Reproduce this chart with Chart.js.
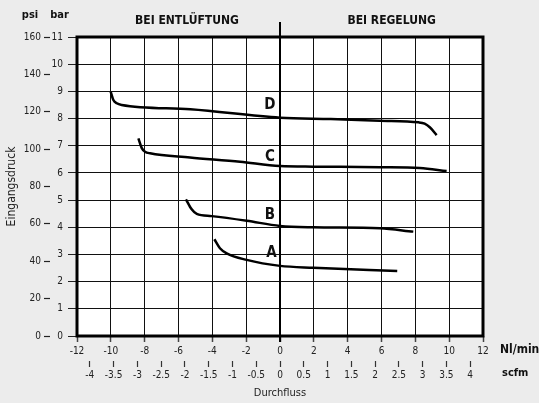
<!DOCTYPE html>
<html><head><meta charset="utf-8">
<script src="https://cdn.jsdelivr.net/npm/chart.js@4/dist/chart.umd.min.js"></script>
<style>html,body{margin:0;padding:0;background:#ececec;overflow:hidden}</style>
</head><body>
<canvas id="c" width="539" height="403"></canvas>
<script>
// ---- tick labels ----
const flowTicks = [-12,-10,-8,-6,-4,-2,0,2,4,6,8,10,12];          // Nl/min
const scfmTicks = [-4,-3.5,-3,-2.5,-2,-1.5,-1,-0.5,0,0.5,1,1.5,2,2.5,3,3.5,4];
const barTicks  = [0,1,2,3,4,5,6,7,8,9,10,11];
const psiTicks  = [0,20,40,60,80,100,120,140,160];
const nlPerScfm = 2.81;   // spacing ratio of the scfm scale as drawn

// ---- curves (x: Nl/min, y: bar) ----
const curveA_x = [-3.88,-3.55,-3.15,-1.97,0,1.97,6.93];
const curveA_y = [3.56,3.23,3.04,2.80,2.58,2.51,2.39];
const curveB_x = [-5.56,-5.22,-4.92,-4.04,-1.97,0,1.97,5.91,7.88];
const curveB_y = [5.03,4.66,4.49,4.41,4.24,4.05,4.00,3.96,3.84];
const curveC_x = [-8.37,-8.17,-7.98,-7.68,-5.32,-2.36,0,1.97,5.91,8.27,9.85];
const curveC_y = [7.27,6.91,6.78,6.72,6.57,6.41,6.25,6.23,6.21,6.18,6.07];
const curveD_x = [-10.01,-9.85,-9.65,-9.36,-5.3,0,3.0,5.9,8.2,8.55,8.87,9.26];
const curveD_y = [8.99,8.68,8.56,8.50,8.34,8.03,7.98,7.92,7.86,7.81,7.67,7.39];

const curveNames = ['A','B','C','D'];
const curveLabelX = [-0.5,-0.6,-0.6,-0.6];
const curveLabelY = [3.06,4.45,6.59,8.5];
const headers = ['BEI ENTLÜFTUNG','BEI REGELUNG'];
const headerX = [-5.5,6.6];

const NARROW = "'DejaVu Sans Condensed',sans-serif";
const tickFont = {family: NARROW, size: 10};

function pts(xs, ys){ return xs.map((x,i)=>({x:x, y:ys[i]})); }
function ds(label, xs, ys){
  return {label, data: pts(xs,ys), borderColor:'#000', borderWidth:2.5,
          pointRadius:0, fill:false, cubicInterpolationMode:'monotone',
          xAxisID:'x', yAxisID:'y'};
}
function setTicks(arr){ return s => { s.ticks = arr.map(v=>({value:v})); }; }

const decor = {
  id:'decor',
  beforeDraw(chart){
    const {ctx, chartArea:a} = chart;
    ctx.save();
    ctx.fillStyle = '#ececec';
    ctx.fillRect(0,0,chart.width,chart.height);
    ctx.fillStyle = '#fff';
    ctx.fillRect(a.left,a.top,a.right-a.left,a.bottom-a.top);
    ctx.restore();
  },
  beforeDatasetsDraw(chart){
    const {ctx, chartArea:a, scales} = chart;
    ctx.save();
    ctx.strokeStyle = '#000';
    ctx.lineWidth = 3;
    ctx.strokeRect(a.left, a.top, a.right-a.left, a.bottom-a.top);
    const x0 = Math.round(scales.x.getPixelForValue(0));
    ctx.lineWidth = 2;
    ctx.beginPath(); ctx.moveTo(x0, 22); ctx.lineTo(x0, a.bottom+6); ctx.stroke();
    ctx.restore();
  },
  afterDraw(chart){
    const {ctx, scales} = chart;
    ctx.save();
    ctx.fillStyle = '#111';
    ctx.textAlign = 'center'; ctx.textBaseline = 'middle';
    ctx.font = "bold 12px " + NARROW;
    headers.forEach((h,i)=> ctx.fillText(h, scales.x.getPixelForValue(headerX[i]), 21));
    ctx.font = "bold 11px " + NARROW;
    ctx.fillText('psi', 30, 15);
    ctx.fillText('bar', 59.5, 15);
    ctx.textAlign = 'left';
    ctx.font = "bold 12px " + NARROW;
    ctx.fillText('Nl/min', 500, 350);
    ctx.font = "bold 11px " + NARROW;
    ctx.fillText('scfm', 502, 373);
    ctx.textAlign = 'center';
    ctx.font = "bold 15px " + NARROW;
    curveNames.forEach((n,i)=> ctx.fillText(n, scales.x.getPixelForValue(curveLabelX[i]), scales.y.getPixelForValue(curveLabelY[i])));
    ctx.restore();
  }
};

new Chart(document.getElementById('c'), {
  type:'line',
  data:{ datasets:[ ds('A',curveA_x,curveA_y), ds('B',curveB_x,curveB_y), ds('C',curveC_x,curveC_y), ds('D',curveD_x,curveD_y) ] },
  options:{
    responsive:false, devicePixelRatio:1, animation:false,
    layout:{ padding:{left:0, top:37, right:56, bottom:0} },
    plugins:{ legend:{display:false}, tooltip:{enabled:false} },
    scales:{
      x:{ type:'linear', position:'bottom', min:-12, max:12,
          afterBuildTicks:setTicks(flowTicks),
          afterFit:s=>{ s.height = 25; },
          ticks:{ font:tickFont, color:'#222', padding:3, maxRotation:0, autoSkip:false, callback:v=>String(v) },
          grid:{ color:'#111', lineWidth:1, tickLength:6, tickColor:'#444', tickWidth:1.5 },
          border:{ display:false } },
      x2:{ type:'linear', position:'bottom', min:-12/nlPerScfm, max:12/nlPerScfm,
          afterBuildTicks:setTicks(scfmTicks),
          afterFit:s=>{ s.height = 42; },
          ticks:{ font:tickFont, color:'#222', padding:2, maxRotation:0, autoSkip:false, callback:v=>String(v) },
          grid:{ drawOnChartArea:false, tickLength:6, tickColor:'#333', tickWidth:1.2 },
          border:{ display:false },
          title:{ display:true, text:'Durchfluss', color:'#222', font:{family:NARROW, size:11}, padding:{top:0,bottom:3} } },
      y:{ type:'linear', position:'left', min:0, max:11,
          afterBuildTicks:setTicks(barTicks),
          afterFit:s=>{ s.width = 27; },
          ticks:{ font:tickFont, color:'#222', padding:5, callback:v=>String(v) },
          grid:{ color:'#111', lineWidth:1, tickLength:9, tickColor:'#222' },
          border:{ display:false } },
      y2:{ type:'linear', position:'left', min:0, max:160,
          afterBuildTicks:setTicks(psiTicks),
          afterFit:s=>{ s.width = 50; },
          ticks:{ font:tickFont, color:'#222', padding:3, callback:v=>String(v) },
          grid:{ drawOnChartArea:false, tickLength:6, tickColor:'#222', tickWidth:1.2 },
          border:{ display:false },
          title:{ display:true, text:'Eingangsdruck', color:'#222', font:{family:NARROW, size:12}, padding:{top:5,bottom:0} } }
    }
  },
  plugins:[decor]
});
</script>
</body></html>
